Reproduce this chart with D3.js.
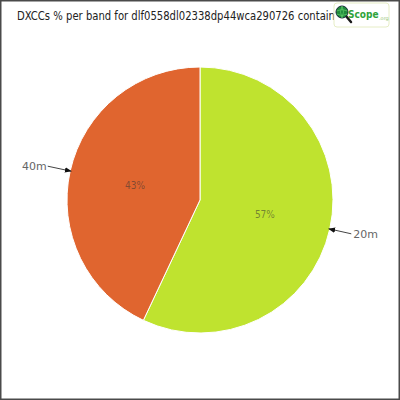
<!DOCTYPE html>
<html>
<head>
<meta charset="utf-8">
<script src="https://cdn.jsdelivr.net/npm/d3@7"></script>
<style>
  body { margin: 0; background: #fff; }
  svg { display: block; }
</style>
</head>
<body>
<div class="chart"></div>
<script>
const fullWidth = 400;
const fullHeight = 400;

const titleText = 'DXCCs % per band for dlf0558dl02338dp44wca290726 contain';
const bands = ['20m', '40m'];
const percents = [57, 43];
const colors = ['#bfe32f', '#e0652f'];

const radius = 133;
const cx = 200;
const cy = 200;

const svg = d3.select('.chart')
    .append('svg')
        .attr('width', fullWidth)
        .attr('height', fullHeight);

// frame
svg.append('rect')
    .attr('x', 0.75)
    .attr('y', 0.75)
    .attr('width', fullWidth - 1.5)
    .attr('height', fullHeight - 1.5)
    .attr('fill', '#fff')
    .attr('stroke', '#4a4a4a')
    .attr('stroke-width', 1.5);

svg.append('text')
    .attr('x', 17)
    .attr('y', 20)
    .attr('font-family', 'DejaVu Sans Condensed, DejaVu Sans, sans-serif')
    .attr('font-size', 11.5)
    .attr('textLength', 318)
    .attr('lengthAdjust', 'spacingAndGlyphs')
    .attr('fill', '#222')
    .text(titleText);

const data = bands.map((b, i) => ({band: b, value: percents[i], color: colors[i]}));

const pie = d3.pie()
    .sort(null)
    .value(d => d.value);

const arc = d3.arc()
    .innerRadius(0)
    .outerRadius(radius);

const labelArc = d3.arc()
    .innerRadius(155)
    .outerRadius(155);

const g = svg.append('g')
    .attr('transform', `translate(${cx}, ${cy})`);

const arcs = pie(data);

g.selectAll('path.slice')
    .data(arcs)
    .enter()
    .append('path')
    .attr('class', 'slice')
    .attr('d', arc)
    .attr('fill', d => d.data.color)
    .attr('stroke', '#fff')
    .attr('stroke-width', 1);

g.selectAll('text.pct')
    .data(arcs)
    .enter()
    .append('text')
    .attr('class', 'pct')
    .attr('transform', d => `translate(${arc.centroid(d)})`)
    .attr('text-anchor', 'middle')
    .attr('dy', '0.35em')
    .attr('font-family', 'DejaVu Sans Condensed, DejaVu Sans, sans-serif')
    .attr('font-size', 10)
    .attr('fill', '#333')
    .attr('fill-opacity', 0.55)
    .text(d => d.data.value + '%');

// arrow marker
svg.append('defs')
    .append('marker')
        .attr('id', 'arrow')
        .attr('viewBox', '0 0 10 10')
        .attr('refX', 9)
        .attr('refY', 5)
        .attr('markerWidth', 7)
        .attr('markerHeight', 7)
        .attr('orient', 'auto')
    .append('path')
        .attr('d', 'M0,1 L10,5 L0,9 Z')
        .attr('fill', '#111');

arcs.forEach(d => {
    const mid = (d.startAngle + d.endAngle) / 2;
    const tip = [Math.sin(mid) * (radius - 1), -Math.cos(mid) * (radius - 1)];
    const lab = labelArc.centroid(d);
    const right = lab[0] > 0;
    const start = [lab[0] + (right ? 0 : -1), lab[1]];
    g.append('line')
        .attr('x1', start[0])
        .attr('y1', start[1])
        .attr('x2', tip[0])
        .attr('y2', tip[1])
        .attr('stroke', '#444')
        .attr('stroke-width', 1)
        .attr('marker-end', 'url(#arrow)');
    g.append('text')
        .attr('x', lab[0] + (right ? 2 : -2))
        .attr('y', lab[1])
        .attr('dy', '0.35em')
        .attr('text-anchor', right ? 'start' : 'end')
        .attr('font-family', 'DejaVu Sans, sans-serif')
        .attr('font-size', 11)
        .attr('fill', '#666')
        .text(d.data.band);
});

// logo
const logo = svg.append('g')
    .attr('transform', 'translate(334, 3)');
logo.append('rect')
    .attr('width', 55)
    .attr('height', 24)
    .attr('rx', 3)
    .attr('fill', '#fff')
    .attr('stroke', '#e6edc6')
    .attr('stroke-width', 1);
logo.append('line')
    .attr('x1', 12)
    .attr('y1', 13)
    .attr('x2', 17)
    .attr('y2', 19)
    .attr('stroke', '#1a1a1a')
    .attr('stroke-width', 2.5)
    .attr('stroke-linecap', 'round');
logo.append('circle')
    .attr('cx', 8)
    .attr('cy', 9)
    .attr('r', 6)
    .attr('fill', '#1f8a3a')
    .attr('stroke', '#123')
    .attr('stroke-width', 1);
logo.append('path')
    .attr('d', 'M2.5,8 Q8,5 13.5,8 M2.5,11 Q8,14 13.5,11 M8,3 Q5,9 8,15 M8,3 Q11,9 8,15')
    .attr('fill', 'none')
    .attr('stroke', '#5ecb6a')
    .attr('stroke-width', 0.7);
logo.append('text')
    .attr('x', 14)
    .attr('y', 15)
    .attr('font-family', 'DejaVu Sans Condensed, DejaVu Sans, sans-serif')
    .attr('font-weight', 'bold')
    .attr('font-size', 10)
    .attr('fill', '#2fa33a')
    .text('Scope');
logo.append('text')
    .attr('x', 45)
    .attr('y', 17)
    .attr('font-family', 'DejaVu Sans, sans-serif')
    .attr('font-size', 5)
    .attr('fill', '#98c676')
    .text('.org');
</script>
</body>
</html>
